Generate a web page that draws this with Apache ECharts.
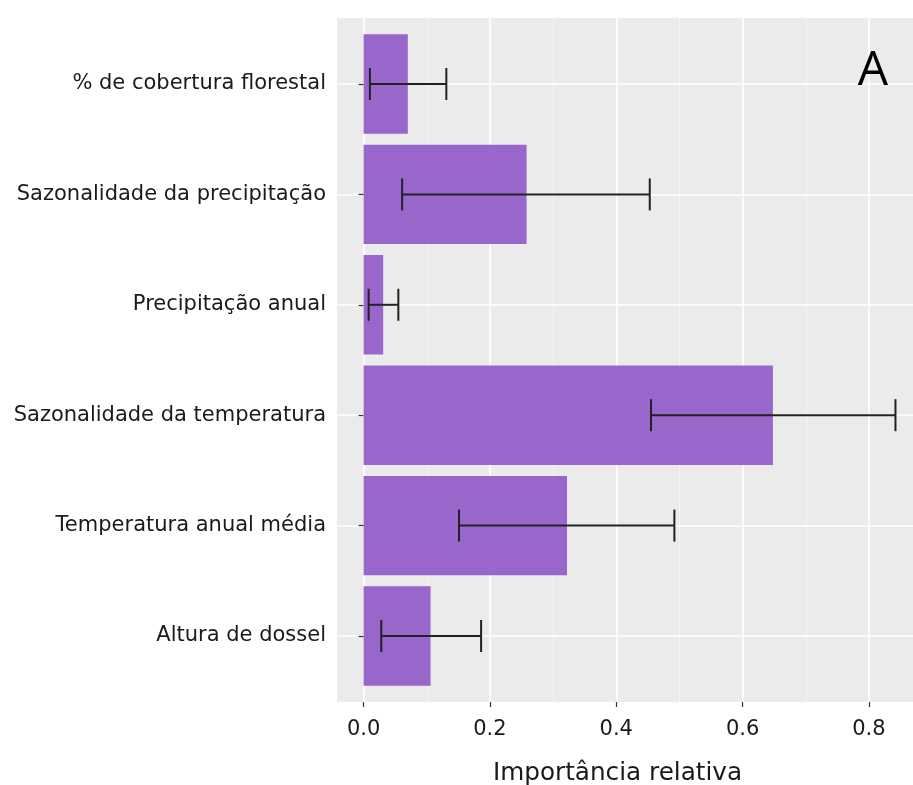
<!DOCTYPE html>
<html>
<head>
<meta charset="utf-8">
<script src="https://cdn.jsdelivr.net/npm/echarts@6/dist/echarts.min.js"></script>
<style>
html,body{margin:0;padding:0;background:#fff;}
#chart{width:913px;height:785px;}
</style>
</head>
<body>
<div id="chart"></div>
<script>
const categories = [
  '% de cobertura florestal',
  'Sazonalidade da precipitação',
  'Precipitação anual',
  'Sazonalidade da temperatura',
  'Temperatura anual média',
  'Altura de dossel'
];
const importance = [0.070, 0.258, 0.031, 0.648, 0.322, 0.106];
const errLow  = [0.010, 0.061, 0.008, 0.455, 0.151, 0.028];
const errHigh = [0.131, 0.453, 0.055, 0.842, 0.492, 0.186];
const majorTicks = [0, 0.2, 0.4, 0.6, 0.8];
const minorTicks = [0.1, 0.3, 0.5, 0.7];
const xMin = -0.0421, xMax = 0.884;

const FONT = 'DejaVu Sans';
const chart = echarts.init(document.getElementById('chart'), null, {renderer: 'canvas'});

const option = {
  animation: false,
  backgroundColor: '#ffffff',
  textStyle: {fontFamily: FONT},
  grid: [
    {left: 337, top: 18, width: 585, height: 684, show: true, backgroundColor: '#EBEBEB', borderWidth: 0, containLabel: false, outerBoundsMode: 'none'},
    {left: 337, top: 84, width: 585, height: 552, show: false, containLabel: false, outerBoundsMode: 'none'}
  ],
  xAxis: [
    {
      gridIndex: 0, type: 'value', min: xMin, max: xMax, position: 'bottom',
      axisLine: {show: false},
      axisTick: {show: true, customValues: majorTicks, length: 5, lineStyle: {color: '#333333', width: 1.2}},
      axisLabel: {show: true, customValues: majorTicks, fontSize: 21, color: '#1a1a1a', margin: 17, fontFamily: FONT,
        formatter: v => v.toFixed(1)},
      splitLine: {show: true, lineStyle: {color: '#ffffff', width: 1.6}},
      name: 'Importância relativa', nameLocation: 'middle', nameGap: 59,
      nameTextStyle: {fontSize: 24.7, color: '#1a1a1a', fontFamily: FONT, padding: [0, 24, 0, 0]}
    },
    {
      gridIndex: 0, type: 'value', min: xMin, max: xMax, position: 'top',
      axisLine: {show: false},
      axisTick: {show: false, customValues: minorTicks},
      axisLabel: {show: false, customValues: minorTicks},
      splitLine: {show: true, lineStyle: {color: '#F7F7F7', width: 0.8}}
    },
    {
      gridIndex: 1, type: 'value', min: xMin, max: xMax, show: false
    }
  ],
  yAxis: [
    {
      gridIndex: 1, type: 'category', data: categories, inverse: true, boundaryGap: false,
      axisLine: {show: false},
      axisTick: {show: true, length: 5, lineStyle: {color: '#333333', width: 1.2}},
      axisLabel: {fontSize: 21, color: '#1a1a1a', margin: 11, fontFamily: FONT},
      splitLine: {show: true, lineStyle: {color: '#ffffff', width: 1.6}}
    },
    {
      gridIndex: 0, type: 'value', show: false
    }
  ],
  graphic: [
    {type: 'text', x: 873, y: 71, z: 100, style: {text: 'A', fontSize: 48, fontFamily: 'Open Sans', fill: '#000', align: 'center', verticalAlign: 'middle'}}
  ],
  series: [
    {
      type: 'bar', xAxisIndex: 2, yAxisIndex: 0, data: importance,
      barWidth: '90%', clip: false,
      itemStyle: {color: '#9966CC'}, z: 3
    },
    {
      type: 'custom', xAxisIndex: 2, yAxisIndex: 0, clip: false, z: 4,
      data: categories.map((c, i) => [i, errLow[i], errHigh[i]]),
      encode: {y: 0, x: [1, 2]},
      renderItem: function (params, api) {
        const yi = api.value(0);
        const lo = api.coord([api.value(1), yi]);
        const hi = api.coord([api.value(2), yi]);
        const half = api.size([0, 1])[1] * 0.145;
        const st = {stroke: '#222222', lineWidth: 2};
        return {type: 'group', children: [
          {type: 'line', shape: {x1: lo[0], y1: lo[1], x2: hi[0], y2: hi[1]}, style: st},
          {type: 'line', shape: {x1: lo[0], y1: lo[1] - half, x2: lo[0], y2: lo[1] + half}, style: st},
          {type: 'line', shape: {x1: hi[0], y1: hi[1] - half, x2: hi[0], y2: hi[1] + half}, style: st}
        ]};
      }
    }
  ]
};
chart.setOption(option);
</script>
</body>
</html>
